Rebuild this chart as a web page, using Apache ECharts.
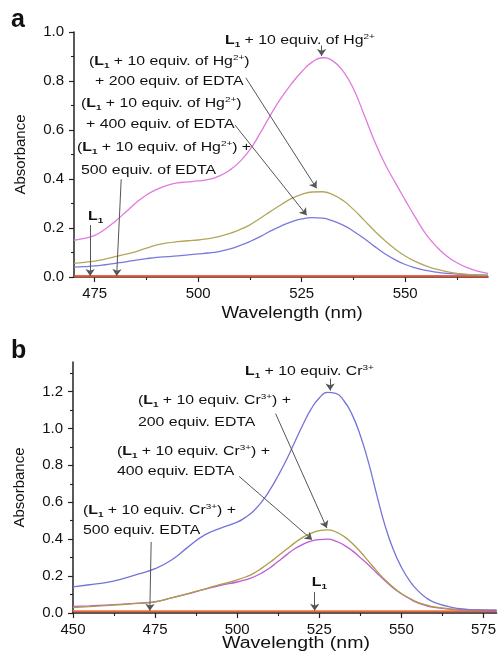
<!DOCTYPE html>
<html><head><meta charset="utf-8">
<script src="https://cdn.jsdelivr.net/npm/echarts@6/dist/echarts.min.js"></script>
<style>html,body{margin:0;padding:0;background:#fff}#c{width:499px;height:653px}</style>
</head><body><div id="c"></div>
<script>
// ---------- Panel a (Hg2+) ----------
const wavelengthA = [470,472.5,475,477.5,480,482.5,485,487.5,490,492.5,495,497.5,500,502.5,505,507.5,510,512.5,515,517.5,520,522.5,525,527.5,530,532.5,535,537.5,540,542.5,545,547.5,550,552.5,555,557.5,560,562.5,565,567.5,570];
const hgOnly = [0.150,0.158,0.170,0.195,0.228,0.265,0.303,0.335,0.358,0.374,0.384,0.388,0.392,0.398,0.412,0.435,0.470,0.520,0.588,0.662,0.730,0.788,0.838,0.877,0.895,0.882,0.840,0.768,0.665,0.558,0.465,0.388,0.314,0.242,0.175,0.125,0.086,0.058,0.038,0.024,0.015];
const hgEdta200 = [0.056,0.060,0.065,0.073,0.083,0.093,0.104,0.118,0.131,0.139,0.144,0.148,0.151,0.157,0.165,0.177,0.193,0.213,0.240,0.268,0.295,0.320,0.337,0.347,0.348,0.336,0.312,0.276,0.233,0.190,0.150,0.115,0.086,0.063,0.045,0.032,0.022,0.015,0.011,0.009,0.008];
const hgEdta400 = [0.040,0.042,0.045,0.050,0.056,0.062,0.069,0.075,0.080,0.083,0.086,0.090,0.094,0.098,0.104,0.114,0.128,0.145,0.165,0.188,0.208,0.225,0.237,0.242,0.240,0.229,0.212,0.187,0.158,0.126,0.096,0.071,0.051,0.037,0.027,0.020,0.015,0.012,0.010,0.009,0.008];
const flatWavelengthA = [470,495,520,545,570];
const hgEdta500 = [0.004,0.004,0.004,0.004,0.004];
const ligandA = [0.002,0.002,0.002,0.002,0.002];
const xTicksA = [475,500,525,550];
const xMinorA = [487.5,512.5,537.5,562.5];
const yTicksA = [0,0.2,0.4,0.6,0.8,1.0];
const yMinorA = [0.1,0.3,0.5,0.7,0.9];

// ---------- Panel b (Cr3+) ----------
const wavelengthB = [450,455,460,465,470,475,480,485,490,495,500,502.5,505,507.5,510,512.5,515,517.5,520,522.5,525,527.5,530,532.5,535,537.5,540,542.5,545,547.5,550,552.5,555,557.5,560,565,570,575,579];
const crOnly = [0.141,0.153,0.165,0.185,0.212,0.240,0.287,0.357,0.422,0.460,0.492,0.518,0.553,0.603,0.668,0.745,0.830,0.925,1.020,1.105,1.165,1.195,1.190,1.150,1.075,0.962,0.815,0.640,0.475,0.345,0.248,0.175,0.121,0.083,0.058,0.032,0.020,0.016,0.015];
const crEdta200 = [0.029,0.034,0.040,0.046,0.052,0.060,0.082,0.105,0.130,0.155,0.180,0.195,0.215,0.243,0.275,0.310,0.345,0.380,0.410,0.432,0.446,0.450,0.440,0.415,0.378,0.332,0.280,0.228,0.180,0.140,0.106,0.080,0.058,0.044,0.033,0.022,0.017,0.015,0.014];
const crEdta400 = [0.036,0.039,0.043,0.048,0.054,0.061,0.082,0.104,0.128,0.150,0.168,0.180,0.195,0.217,0.245,0.280,0.315,0.348,0.372,0.390,0.398,0.400,0.390,0.368,0.338,0.300,0.260,0.217,0.175,0.136,0.104,0.077,0.055,0.040,0.030,0.020,0.016,0.015,0.014];
const flatWavelengthB = [450,480,510,540,579];
const crEdta500 = [0.012,0.012,0.012,0.012,0.012];
const ligandB = [0.008,0.008,0.008,0.008,0.008];
const xTicksB = [450,475,500,525,550,575];
const xMinorB = [462.5,487.5,512.5,537.5,562.5];
const yTicksB = [0,0.2,0.4,0.6,0.8,1.0,1.2];
const yMinorB = [0.1,0.3,0.5,0.7,0.9,1.1,1.3];

const F = "'Liberation Sans', Arial, sans-serif";
const AX = '#222';
const pairs = (xs, ys) => xs.map((x, i) => [x, ys[i]]);

function mainX(g, min, max, ticks) {
  return { type:'value', gridIndex:g, min, max, position:'bottom',
    axisLine:{show:true, onZero:false, lineStyle:{color:AX, width:1.5}},
    axisTick:{show:true, customValues:ticks, length:5, lineStyle:{color:AX, width:1.2}},
    axisLabel:{customValues:ticks, fontSize:15, color:'#111', fontFamily:F, margin:9},
    splitLine:{show:false} };
}
function minorX(g, min, max, ticks) {
  return { type:'value', gridIndex:g, min, max, position:'bottom',
    axisLine:{show:false}, axisTick:{show:true, customValues:ticks, length:3, lineStyle:{color:AX, width:1.1}},
    axisLabel:{show:false}, splitLine:{show:false} };
}
function mainY(g, min, max, ticks) {
  return { type:'value', gridIndex:g, min, max, position:'left',
    name:'Absorbance', nameLocation:'middle', nameGap:46,
    nameTextStyle:{fontSize:15, color:'#111', fontFamily:F},
    axisLine:{show:true, onZero:false, lineStyle:{color:AX, width:1.5}},
    axisTick:{show:true, customValues:ticks, length:5, lineStyle:{color:AX, width:1.2}},
    axisLabel:{customValues:ticks, fontSize:15, color:'#111', fontFamily:F, margin:10, formatter:v => v.toFixed(1)},
    splitLine:{show:false} };
}
function minorY(g, min, max, ticks) {
  return { type:'value', gridIndex:g, min, max, position:'left',
    axisLine:{show:false}, axisTick:{show:true, customValues:ticks, length:3, lineStyle:{color:AX, width:1.1}},
    axisLabel:{show:false}, splitLine:{show:false} };
}
function curve(name, xs, ys, color, xi, yi, extra) {
  return Object.assign({ name, type:'line', xAxisIndex:xi, yAxisIndex:yi, data:pairs(xs, ys),
    smooth:0.5, showSymbol:false, symbol:'none', silent:true,
    lineStyle:{color, width:1.3}, itemStyle:{color} }, extra || {});
}
function arrows(list) {
  return { silent:true, symbol:['none','arrow'], symbolSize:7, animation:false, z:50,
    label:{show:false}, emphasis:{disabled:true},
    itemStyle:{color:'#111'},
    lineStyle:{color:'#555', width:1, type:'solid'},
    data: list.map(a => [{coord:a[0]}, {coord:a[1]}]) };
}

const RICH = {
  b:{fontWeight:'bold', fontSize:12, fontFamily:F, fill:'#111'},
  sub:{fontWeight:'bold', fontSize:7.5, fontFamily:F, fill:'#111', verticalAlign:'bottom', lineHeight:8},
  sup:{fontSize:7.5, fontFamily:F, fill:'#111', verticalAlign:'top', lineHeight:8}
};
const L = '{b|L}{sub|1}';
function note(x, y, text) {
  return { type:'text', x, y, scaleX:1.32, silent:true, z:100,
    style:{ text, fontSize:12, fontFamily:F, fill:'#111', lineHeight:16,
      align:'left', textAlign:'left', verticalAlign:'middle', textVerticalAlign:'middle', rich:RICH } };
}
function plainText(x, y, text, size, weight, sx, align) {
  return { type:'text', x, y, scaleX:sx, silent:true, z:100,
    style:{ text, fontSize:size, fontWeight:weight, fontFamily:F, fill:'#111',
      align, textAlign:align, verticalAlign:'middle', textVerticalAlign:'middle' } };
}

const option = {
  animation:false,
  backgroundColor:'#fff',
  grid:[
    {left:74, right:11, top:32, bottom:376, containLabel:false},
    {left:73, right:0, top:362, bottom:40, containLabel:false}
  ],
  xAxis:[ mainX(0,470,570,xTicksA), minorX(0,470,570,xMinorA), mainX(1,450,579,xTicksB), minorX(1,450,579,xMinorB) ],
  yAxis:[ mainY(0,0,1.0,yTicksA), minorY(0,0,1.0,yMinorA), mainY(1,0,1.36,yTicksB), minorY(1,0,1.36,yMinorB) ],
  series:[
    curve('L1 (a)', flatWavelengthA, ligandA, '#f08a4b', 0, 0),
    curve('500 equiv. EDTA (a)', flatWavelengthA, hgEdta500, '#e23b2a', 0, 0, {markLine: arrows([
      [[529.8,0.945],[529.8,0.902]],
      [[511.5,0.813],[528.6,0.362]],
      [[508.9,0.62],[526.2,0.252]],
      [[481.4,0.399],[480.3,0.004]],
      [[473.9,0.212],[473.9,0.004]]
    ])}),
    curve('400 equiv. EDTA (a)', wavelengthA, hgEdta400, '#7a78de', 0, 0),
    curve('200 equiv. EDTA (a)', wavelengthA, hgEdta200, '#b3a65c', 0, 0),
    curve('L1 + 10 equiv. Hg (a)', wavelengthA, hgOnly, '#e07ade', 0, 0),

    curve('L1 (b)', flatWavelengthB, ligandB, '#e23b2a', 2, 2),
    curve('500 equiv. EDTA (b)', flatWavelengthB, crEdta500, '#f08a4b', 2, 2, {markLine: arrows([
      [[528.3,1.27],[528.3,1.205]],
      [[511.7,1.08],[527.3,0.46]],
      [[500.6,0.74],[522.8,0.397]],
      [[473.8,0.385],[473.4,0.012]],
      [[523.6,0.114],[523.6,0.012]]
    ])}),
    curve('400 equiv. EDTA (b)', wavelengthB, crEdta400, '#c05ad4', 2, 2),
    curve('200 equiv. EDTA (b)', wavelengthB, crEdta200, '#ab9f45', 2, 2),
    curve('L1 + 10 equiv. Cr (b)', wavelengthB, crOnly, '#7474d8', 2, 2)
  ],
  graphic:[
    plainText(11, 20, 'a', 25, 'bold', 1, 'left'),
    plainText(11, 351, 'b', 25, 'bold', 1, 'left'),
    plainText(292, 314, 'Wavelength (nm)', 16, 'normal', 1.165, 'center'),
    plainText(296, 644, 'Wavelength (nm)', 16, 'normal', 1.22, 'center'),

    note(225, 41, L + ' + 10 equiv. of Hg{sup|2+}'),
    note(89, 61.5, '(' + L + ' + 10 equiv. of Hg{sup|2+})'),
    note(95, 81.5, '+ 200 equiv. of EDTA'),
    note(81, 104, '(' + L + ' + 10 equiv. of Hg{sup|2+})'),
    note(86, 124.5, '+ 400 equiv. of EDTA'),
    note(77, 148, '(' + L + ' + 10 equiv. of Hg{sup|2+}) +'),
    note(81, 171, '500 equiv. of EDTA'),
    note(88, 217, L),

    note(245, 371.5, L + ' + 10 equiv. Cr{sup|3+}'),
    note(138, 401, '(' + L + ' + 10 equiv. Cr{sup|3+}) +'),
    note(138, 422.5, '200 equiv. EDTA'),
    note(117, 451.5, '(' + L + ' + 10 equiv. Cr{sup|3+}) +'),
    note(117, 471.5, '400 equiv. EDTA'),
    note(83, 510.5, '(' + L + ' + 10 equiv. Cr{sup|3+}) +'),
    note(83, 531, '500 equiv. EDTA'),
    note(311.7, 583, L)
  ]
};
const chart = echarts.init(document.getElementById('c'), null, {renderer:'canvas'});
chart.setOption(option);
</script>
</body></html>
